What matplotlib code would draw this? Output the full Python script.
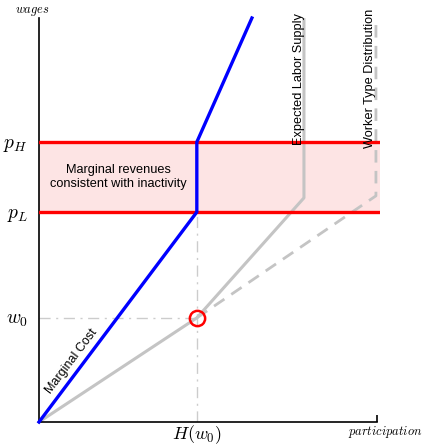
import matplotlib
matplotlib.use("Agg")
import matplotlib.pyplot as plt

plt.rcParams["mathtext.fontset"] = "cm"
plt.rcParams["font.family"] = ["Liberation Sans", "DejaVu Sans"]

# Key levels of the model (participation on x, wages on y)
H_w0 = 0.467          # participation at the reservation wage
w0 = 0.308            # reservation wage
p_L = 0.621           # low price
p_H = 0.828           # high price
x_max = 1.0           # full participation
y_top = 1.19

# Marginal cost curve (kinked at H(w0))
mc_x = [0.0, H_w0, H_w0, 0.630]
mc_y = [0.0, p_L, p_H, 1.195]

# Expected labor supply
els_x = [0.0, H_w0, 0.784, 0.784]
els_y = [0.0, w0, 0.663, y_top]

# Worker type distribution (dashed continuation)
wtd_x = [H_w0, 0.997, 0.997]
wtd_y = [w0, 0.669, y_top]

y_ticks = [w0, p_L, p_H]
y_tick_labels = [r"$w_0$", r"$p_L$", r"$p_H$"]
x_tick_labels = [r"$H(w_0)$"]

W, Hpx = 425, 445
fig = plt.figure(figsize=(W / 100, Hpx / 100), dpi=100)
ax = fig.add_axes([39 / W, 23 / Hpx, 341 / W, 404 / Hpx])
ax.set_xlim(0, 1.009)
ax.set_ylim(0, 1.195)

gray = "#c4c4c4"

# Band of marginal revenues consistent with inactivity
ax.axhspan(p_L, p_H, color="#fde4e4", zorder=0)
ax.axhline(p_L, color="#ff0000", lw=2.4, zorder=3)
ax.axhline(p_H, color="#ff0000", lw=2.4, zorder=3)

# Guide lines at the reservation wage
ax.plot([0, H_w0], [w0, w0], color="#cccccc", lw=1.0, ls=(0, (8, 4, 1.5, 4)), zorder=1)
ax.plot([H_w0, H_w0], [0, p_L], color="#cccccc", lw=1.0, ls=(0, (8, 4, 1.5, 4)), zorder=1)

ax.plot(wtd_x, wtd_y, color=gray, lw=2.0, ls=(0, (4.5, 3)), zorder=2, clip_on=False)
ax.plot(els_x, els_y, color=gray, lw=2.2, zorder=2, clip_on=False)
ax.plot(mc_x, mc_y, color="#0000ff", lw=2.4, zorder=4, clip_on=False,
        solid_joinstyle="miter")

ax.plot([H_w0], [w0], marker="o", ms=11, mfc="none", mec="#ff0000", mew=1.8, zorder=5)

# Annotations
ax.text(0.234, 0.725, "Marginal revenues\nconsistent with inactivity",
        ha="center", va="center", fontsize=9.2, linespacing=1.25)
ax.text(0.095, 0.18, "Marginal Cost", rotation=53, ha="center", va="center",
        fontsize=9.0, rotation_mode="anchor")
ax.text(0.768, 1.21, "Expected Labor Supply", rotation=90, ha="center", va="top",
        fontsize=9.2)
ax.text(0.978, 1.222, "Worker Type Distribution", rotation=90, ha="center", va="top",
        fontsize=9.2)

# Axes styling
for s in ["top", "right"]:
    ax.spines[s].set_visible(False)
ax.spines["bottom"].set_bounds(0, x_max)
ax.spines["left"].set_linewidth(1.2)
ax.spines["bottom"].set_linewidth(1.2)

ax.set_yticks(y_ticks)
ax.set_yticklabels(y_tick_labels, fontsize=14)
ax.tick_params(axis="y", length=0, pad=8)
ax.set_xticks([H_w0])
ax.set_xticklabels(x_tick_labels, fontsize=13)
ax.tick_params(axis="x", which="major", length=0, pad=1)
ax.set_xticks([x_max], minor=True)
ax.tick_params(axis="x", which="minor", direction="in", length=5, width=1.2)

fig.text(32 / W, 1 - 12 / Hpx, r"$wages$", ha="center", va="center", fontsize=9)
fig.text(385 / W, 1 - 432 / Hpx, r"$participation$", ha="center", va="center", fontsize=9)

fig.savefig("out.png", dpi=100)
